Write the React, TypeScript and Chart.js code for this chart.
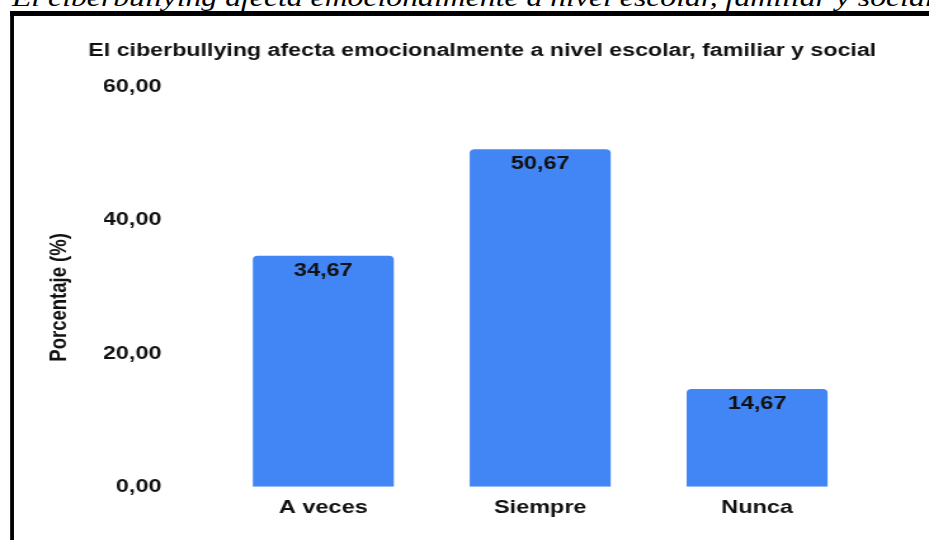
import React, { useEffect, useRef } from 'react';
import { Chart, registerables } from 'chart.js';

Chart.register(...registerables);

const categories = ['A veces', 'Siempre', 'Nunca'];
const values = [34.67, 50.67, 14.67];
const yTickValues = [0, 20, 40, 60];
const yTickLabels = ['0,00', '20,00', '40,00', '60,00'];
const chartTitle = 'El ciberbullying afecta emocionalmente a nivel escolar, familiar y social';
const captionText = 'El ciberbullying afecta emocionalmente a nivel escolar, familiar y social';
const yAxisTitle = 'Porcentaje (%)';

const W = 732;
const H = 540;
const SX = 929 / W;
const FONT = '"Liberation Sans", Arial, sans-serif';
const FS = 18.5;
const TITLE_FS = 18.3;
const TEXT = '#111111';
const BAR = '#4285f4';

const fmt = (v: number) => v.toFixed(2).replace('.', ',');

const barLabels = {
  id: 'barLabels',
  afterDatasetsDraw(chart: any) {
    const ctx = chart.ctx;
    const meta = chart.getDatasetMeta(0);
    ctx.save();
    ctx.font = `bold ${FS}px ${FONT}`;
    ctx.fillStyle = TEXT;
    ctx.textAlign = 'center';
    ctx.textBaseline = 'middle';
    meta.data.forEach((bar: any, i: number) => {
      const v = chart.data.datasets[0].data[i] as number;
      ctx.fillText(fmt(v), bar.x, bar.y + 15);
    });
    ctx.restore();
  },
};

const texts = {
  id: 'texts',
  afterDraw(chart: any) {
    const ctx = chart.ctx;
    const ca = chart.chartArea;
    ctx.save();
    ctx.fillStyle = TEXT;
    ctx.textAlign = 'center';
    ctx.textBaseline = 'middle';
    // chart title
    ctx.font = `bold ${TITLE_FS}px ${FONT}`;
    ctx.fillText(chartTitle, 380, 50.5);
    // y-axis title
    ctx.font = `bold ${FS}px ${FONT}`;
    ctx.translate(46.5, (ca.top + ca.bottom) / 2 + 10.5);
    ctx.rotate(-Math.PI / 2);
    ctx.fillText(yAxisTitle, 0, 0);
    ctx.restore();
  },
};

export default function App() {
  const ref = useRef<HTMLCanvasElement | null>(null);

  useEffect(() => {
    document.documentElement.style.overflow = 'hidden';
    document.body.style.overflow = 'hidden';
    const canvas = ref.current;
    if (!canvas) return;
    const font = { family: FONT, size: FS, weight: 'bold' as const };
    const chart = new Chart(canvas, {
      type: 'bar',
      data: {
        labels: categories,
        datasets: [
          {
            data: values,
            backgroundColor: BAR,
            borderRadius: 4,
            barPercentage: 0.65,
            categoryPercentage: 1.0,
          },
        ],
      },
      options: {
        responsive: false,
        animation: false,
        layout: { padding: { top: 87, left: 82, right: 50, bottom: 11 } },
        plugins: {
          legend: { display: false },
          tooltip: { enabled: false },
          title: { display: false },
        },
        scales: {
          x: {
            grid: { display: false, drawTicks: false },
            border: { display: false },
            ticks: { color: TEXT, font, padding: 10 },
          },
          y: {
            min: 0,
            max: 60,
            afterBuildTicks: (s: any) => {
              s.ticks = yTickValues.map((v) => ({ value: v }));
            },
            afterFit: (s: any) => {
              s.width = 87.3;
            },
            grid: { display: false, drawTicks: false },
            border: { display: false },
            ticks: {
              color: TEXT,
              font,
              padding: 42,
              callback: (_v: any, i: number) => yTickLabels[i],
            },
          },
        },
      },
      plugins: [barLabels, texts],
    });
    return () => chart.destroy();
  }, []);

  return (
    <div
      style={{
        position: 'absolute',
        left: 0,
        top: 0,
        width: W,
        height: H,
        overflow: 'hidden',
        background: '#ffffff',
        transform: `scaleX(${SX})`,
        transformOrigin: '0 0',
      }}
    >
      <div
        style={{
          position: 'absolute',
          left: 9.4,
          top: -14,
          fontFamily: '"Liberation Serif", "Times New Roman", serif',
          fontStyle: 'italic',
          fontSize: 25,
          lineHeight: '24px',
          whiteSpace: 'nowrap',
          color: '#000',
        }}
      >
        {captionText}
      </div>
      <div
        style={{
          position: 'absolute',
          left: 7.9,
          top: 11,
          width: W,
          height: H,
          borderLeft: '3.9px solid #000',
          borderTop: '5px solid #000',
          boxSizing: 'border-box',
        }}
      />
      <canvas
        ref={ref}
        width={W}
        height={H}
        style={{ position: 'absolute', left: 0, top: 0, width: W, height: H }}
      />
    </div>
  );
}
